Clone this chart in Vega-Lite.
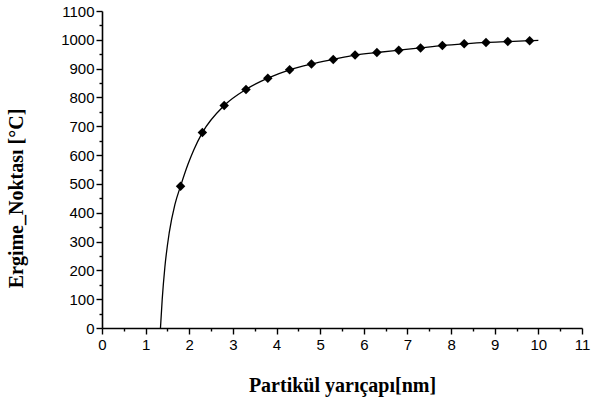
{
  "$schema": "https://vega.github.io/schema/vega-lite/v6.json",
  "width": 480,
  "height": 317,
  "autosize": {"type": "none"},
  "padding": {"left": 102, "top": 11, "right": 10, "bottom": 76},
  "background": "white",
  "config": {
    "view": {"stroke": null},
    "axis": {
      "grid": false,
      "domainColor": "black",
      "domainWidth": 1.6,
      "tickColor": "black",
      "tickWidth": 1.4,
      "labelColor": "black",
      "labelFont": "Liberation Sans",
      "labelFontSize": 15,
      "titleColor": "black",
      "titleFont": "Liberation Serif",
      "titleFontWeight": "bold",
      "titleFontSize": 20
    }
  },
  "datasets": {
    "curve": [
      {"r": 1.34, "t": 0},
      {"r": 1.38, "t": 100},
      {"r": 1.44, "t": 210},
      {"r": 1.54, "t": 330},
      {"r": 1.67, "t": 428},
      {"r": 1.8, "t": 492},
      {"r": 1.97, "t": 568},
      {"r": 2.1, "t": 617},
      {"r": 2.3, "t": 678},
      {"r": 2.8, "t": 772},
      {"r": 3.3, "t": 828},
      {"r": 3.8, "t": 867},
      {"r": 4.3, "t": 896},
      {"r": 4.8, "t": 916},
      {"r": 5.3, "t": 932},
      {"r": 5.8, "t": 947},
      {"r": 6.3, "t": 956},
      {"r": 6.8, "t": 964},
      {"r": 7.3, "t": 972},
      {"r": 7.8, "t": 980},
      {"r": 8.3, "t": 986},
      {"r": 8.8, "t": 991},
      {"r": 9.3, "t": 994},
      {"r": 9.8, "t": 997},
      {"r": 10.0, "t": 998}
    ],
    "markers": [
      {"r": 1.8, "t": 492},
      {"r": 2.3, "t": 678},
      {"r": 2.8, "t": 772},
      {"r": 3.3, "t": 828},
      {"r": 3.8, "t": 867},
      {"r": 4.3, "t": 896},
      {"r": 4.8, "t": 916},
      {"r": 5.3, "t": 932},
      {"r": 5.8, "t": 947},
      {"r": 6.3, "t": 956},
      {"r": 6.8, "t": 964},
      {"r": 7.3, "t": 972},
      {"r": 7.8, "t": 980},
      {"r": 8.3, "t": 986},
      {"r": 8.8, "t": 991},
      {"r": 9.3, "t": 994},
      {"r": 9.8, "t": 997}
    ]
  },
  "encoding": {
    "x": {
      "field": "r",
      "type": "quantitative",
      "scale": {"domain": [0, 11], "nice": false, "zero": false},
      "axis": {
        "title": "Partikül yarıçapı[nm]",
        "titleY": 47,
        "titleBaseline": "top",
        "values": [0, 0.5, 1, 1.5, 2, 2.5, 3, 3.5, 4, 4.5, 5, 5.5, 6, 6.5, 7, 7.5, 8, 8.5, 9, 9.5, 10, 10.5, 11],
        "labelExpr": "datum.value % 1 === 0 ? format(datum.value, 'd') : ''",
        "tickSize": {"condition": {"test": "datum.value % 1 === 0", "value": 6}, "value": 3},
        "labelPadding": 3,
        "labelFlush": false
      }
    },
    "y": {
      "field": "t",
      "type": "quantitative",
      "scale": {"domain": [0, 1100], "nice": false},
      "axis": {
        "title": "Ergime_Noktası [°C]",
        "titleX": -76,
        "titleY": 187,
        "values": [0, 50, 100, 150, 200, 250, 300, 350, 400, 450, 500, 550, 600, 650, 700, 750, 800, 850, 900, 950, 1000, 1050, 1100],
        "labelExpr": "datum.value % 100 === 0 ? format(datum.value, 'd') : ''",
        "tickSize": {"condition": {"test": "datum.value % 100 === 0", "value": 6}, "value": 3},
        "labelPadding": 2,
        "labelFlush": false
      }
    }
  },
  "layer": [
    {
      "data": {"name": "curve"},
      "mark": {"type": "line", "color": "black", "strokeWidth": 1.3, "interpolate": "monotone"}
    },
    {
      "data": {"name": "markers"},
      "mark": {"type": "point", "shape": "diamond", "filled": true, "color": "black", "opacity": 1, "size": 90}
    }
  ]
}
